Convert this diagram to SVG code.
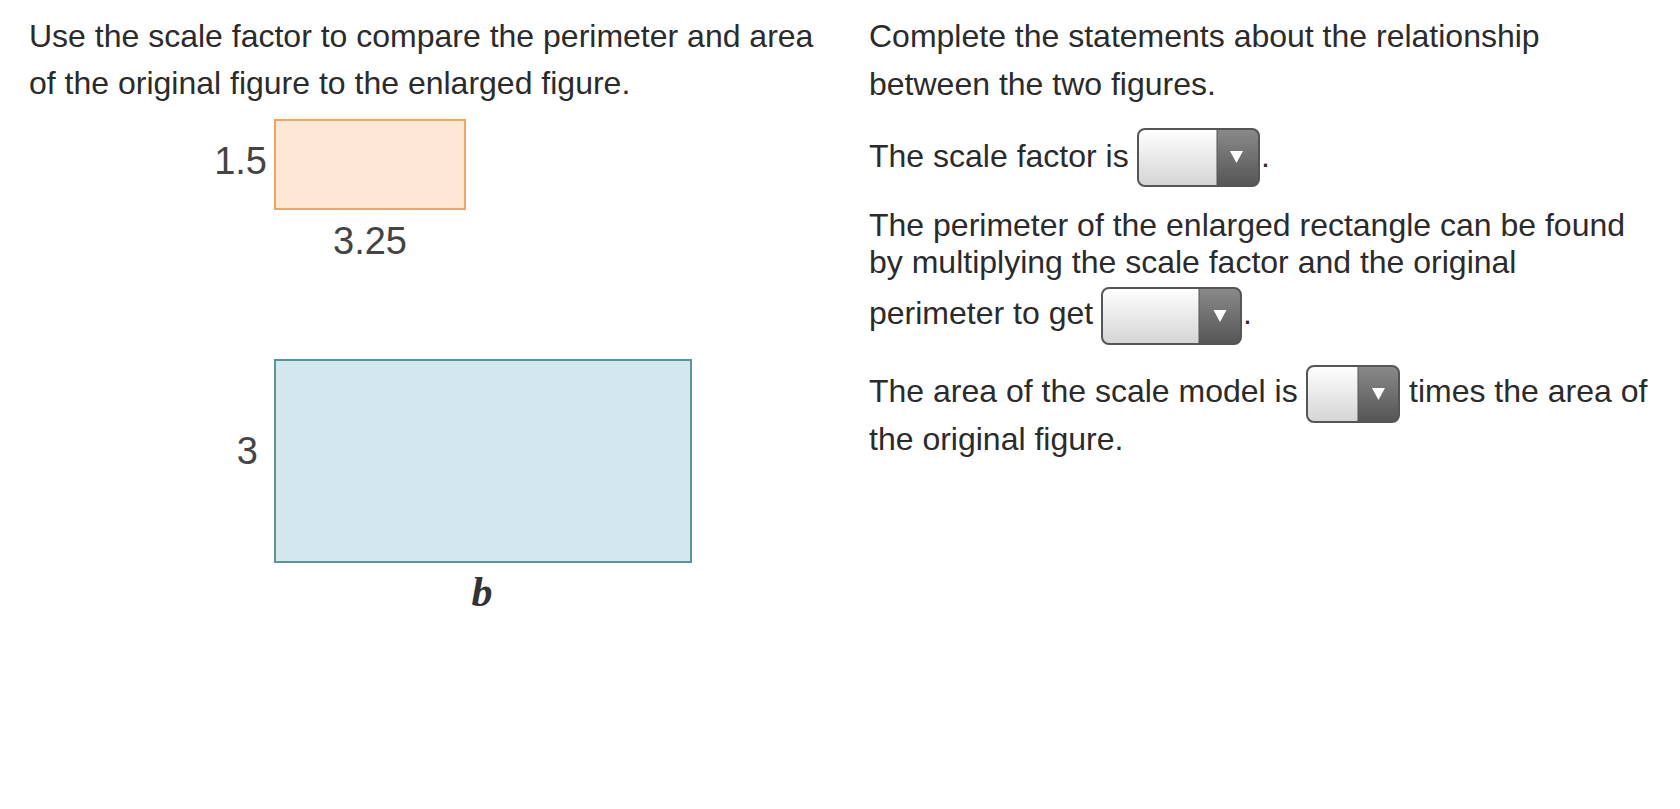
<svg xmlns="http://www.w3.org/2000/svg" width="1680" height="809" viewBox="0 0 1680 809">
<style>
.t{font-family:"Liberation Sans",Arial,sans-serif;font-size:32px;fill:#2b2b2b}
.lbl{font-family:"Liberation Sans",Arial,sans-serif;font-size:38px;fill:#444}
.dd-l{fill:url(#gl)}
.dd-r{fill:url(#gr)}
.dd-b{fill:none;stroke:#555;stroke-width:2}
.tri{fill:#fff}
</style>
<defs>
<linearGradient id="gl" x1="0" y1="0" x2="0" y2="1"><stop offset="0" stop-color="#ffffff"/><stop offset="1" stop-color="#d4d4d4"/></linearGradient>
<linearGradient id="gr" x1="0" y1="0" x2="0" y2="1"><stop offset="0" stop-color="#8a8a8a"/><stop offset="1" stop-color="#555"/></linearGradient>
</defs>
<rect width="1680" height="809" fill="#fff"/>
<g id="left-text">
<text class="t" x="29" y="47">Use the scale factor to compare the perimeter and area</text>
<text class="t" x="29" y="94">of the original figure to the enlarged figure.</text>
</g>
<g id="original">
<rect x="275" y="120" width="190" height="89" fill="#fde8d6" stroke="#f4a45c" stroke-width="2"/>
<text class="lbl" x="267" y="174" text-anchor="end">1.5</text>
<text class="lbl" x="370" y="254" text-anchor="middle">3.25</text>
</g>
<g id="enlarged">
<rect x="275" y="360" width="416" height="202" fill="#d2e7ee" stroke="#5b9399" stroke-width="2"/>
<text class="lbl" x="258" y="464" text-anchor="end">3</text>
<text x="482" y="606" text-anchor="middle" style="font-family:'Liberation Serif','Times New Roman',serif;font-size:42px;font-weight:bold;font-style:italic;fill:#333">b</text>
</g>
<g id="right-text">
<text class="t" x="869" y="47">Complete the statements about the relationship</text>
<text class="t" x="869" y="95">between the two figures.</text>
<text class="t" x="869" y="167">The scale factor is</text>
<text class="t" x="1261" y="167">.</text>
<text class="t" x="869" y="236">The perimeter of the enlarged rectangle can be found</text>
<text class="t" x="869" y="273">by multiplying the scale factor and the original</text>
<text class="t" x="869" y="324">perimeter to get</text>
<text class="t" x="1243" y="324">.</text>
<text class="t" x="869" y="402">The area of the scale model is</text>
<text class="t" x="1409" y="402">times the area of</text>
<text class="t" x="869" y="450">the original figure.</text>
</g>
<g id="dropdown1">
<rect class="dd-l" x="1138" y="129" width="121" height="57" rx="7"/>
<path class="dd-r" d="M1217 129 H1252 A7 7 0 0 1 1259 136 V179 A7 7 0 0 1 1252 186 H1217 Z"/>
<rect class="dd-b" x="1138" y="129" width="121" height="57" rx="7"/>
<line x1="1217" y1="129" x2="1217" y2="186" stroke="#555" stroke-width="1"/>
<polygon class="tri" points="1230,151 1243,151 1236.5,163"/>
</g>
<g id="dropdown2">
<rect class="dd-l" x="1102" y="288" width="139" height="56" rx="7"/>
<path class="dd-r" d="M1199 288 H1234 A7 7 0 0 1 1241 295 V337 A7 7 0 0 1 1234 344 H1199 Z"/>
<rect class="dd-b" x="1102" y="288" width="139" height="56" rx="7"/>
<line x1="1199" y1="288" x2="1199" y2="344" stroke="#555" stroke-width="1"/>
<polygon class="tri" points="1213.5,310 1226.5,310 1220,322"/>
</g>
<g id="dropdown3">
<rect class="dd-l" x="1307" y="366" width="92" height="56" rx="7"/>
<path class="dd-r" d="M1358 366 H1392 A7 7 0 0 1 1399 373 V415 A7 7 0 0 1 1392 422 H1358 Z"/>
<rect class="dd-b" x="1307" y="366" width="92" height="56" rx="7"/>
<line x1="1358" y1="366" x2="1358" y2="422" stroke="#555" stroke-width="1"/>
<polygon class="tri" points="1372,388 1385,388 1378.5,400"/>
</g>
<g id="connectors"></g>
</svg>
